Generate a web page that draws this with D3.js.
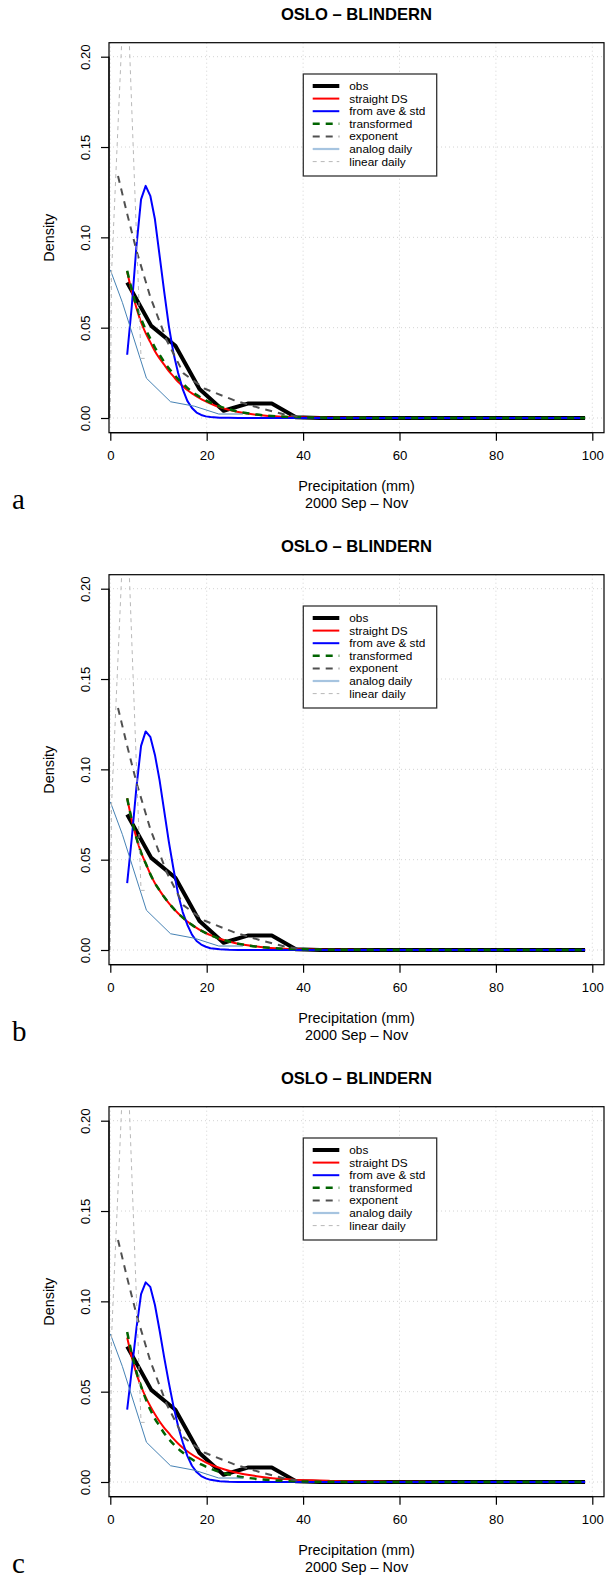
<!DOCTYPE html>
<html><head><meta charset="utf-8">
<script src="https://cdn.jsdelivr.net/npm/d3@7"></script>
<style>body{margin:0;background:#fff}svg{display:block}</style>
</head><body>
<script>
// ---- data ----
const panelLabels = ["a", "b", "c"];
const title = "OSLO \u2013 BLINDERN";
const xTicks = [0, 20, 40, 60, 80, 100];
const yTicks = [0.00, 0.05, 0.10, 0.15, 0.20];
const yTickLabels = ["0.00", "0.05", "0.10", "0.15", "0.20"];
const legendNames = ["obs", "straight DS", "from ave & std", "transformed", "exponent", "analog daily", "linear daily"];

// observed histogram mids & densities (same in all panels)
const obsX = [3.5, 8.5, 13.5, 18.5, 23.5, 28.5, 33.5, 38.5, 43.5, 48.5, 53.5, 58.5, 63.5, 68.5, 73.5, 78.5, 83.5, 88.5, 93.5, 98.5];
const obsY = [0.075, 0.051, 0.040, 0.016, 0.004, 0.008, 0.008, 0.0004, 0, 0, 0, 0, 0, 0, 0, 0, 0, 0, 0, 0];

// x grid of the fitted curves
const fitX = [3.5, 4.46, 5.42, 6.38, 7.34, 8.30, 9.26, 10.22, 11.18, 12.14, 13.10, 14.06, 15.02, 15.98, 16.94, 17.90, 18.86, 19.82, 20.78, 22.70, 24.62, 26.54, 28.46, 30.38, 32.30, 34.22, 36.14, 38.06, 41.90, 45.74, 49.58, 57.26, 64.94, 72.62, 80.30, 87.98, 98.5];

const redA = [0.081, 0.070, 0.061, 0.053, 0.047, 0.042, 0.037, 0.033, 0.0295, 0.026, 0.023, 0.020, 0.0177, 0.0155, 0.0136, 0.012, 0.0105, 0.0092, 0.008, 0.006, 0.0045, 0.0033, 0.0025, 0.0018, 0.0013, 0.001, 0.0007, 0.0005, 0.0003, 0.00015, 0.0001, 0.00005, 0, 0, 0, 0, 0];
const redB = [0.084, 0.072, 0.062, 0.054, 0.048, 0.042, 0.037, 0.033, 0.0293, 0.026, 0.023, 0.0203, 0.018, 0.0158, 0.0139, 0.0122, 0.0107, 0.0094, 0.0082, 0.0062, 0.0047, 0.0035, 0.0026, 0.0019, 0.0014, 0.001, 0.0007, 0.0005, 0.0003, 0.00015, 0.0001, 0.00005, 0, 0, 0, 0, 0];
const redC = [0.080, 0.069, 0.060, 0.053, 0.047, 0.042, 0.0375, 0.0335, 0.030, 0.027, 0.024, 0.0213, 0.019, 0.017, 0.0152, 0.0136, 0.0122, 0.0109, 0.0097, 0.0078, 0.0062, 0.005, 0.004, 0.0032, 0.0025, 0.002, 0.0016, 0.0013, 0.0009, 0.0006, 0.0004, 0.0002, 0.0001, 0.00005, 0, 0, 0];

const greenA = [0.0815, 0.071, 0.062, 0.055, 0.049, 0.044, 0.039, 0.035, 0.031, 0.0275, 0.0245, 0.0215, 0.019, 0.0167, 0.0146, 0.0128, 0.0112, 0.0098, 0.0085, 0.0064, 0.0048, 0.0035, 0.0026, 0.0019, 0.0014, 0.001, 0.0007, 0.0005, 0.0003, 0.00015, 0.0001, 0.00005, 0, 0, 0, 0, 0];
const greenB = [0.084, 0.072, 0.062, 0.054, 0.048, 0.042, 0.037, 0.033, 0.0293, 0.026, 0.023, 0.0203, 0.018, 0.0158, 0.0139, 0.0122, 0.0107, 0.0094, 0.0082, 0.0062, 0.0047, 0.0035, 0.0026, 0.0019, 0.0014, 0.001, 0.0007, 0.0005, 0.0003, 0.00015, 0.0001, 0.00005, 0, 0, 0, 0, 0];
const greenC = [0.083, 0.071, 0.061, 0.053, 0.046, 0.040, 0.035, 0.031, 0.027, 0.0238, 0.021, 0.0185, 0.0163, 0.0143, 0.0126, 0.011, 0.0097, 0.0085, 0.0074, 0.0056, 0.0042, 0.0031, 0.0023, 0.0017, 0.0012, 0.0009, 0.0006, 0.0004, 0.0002, 0.0001, 0.00005, 0, 0, 0, 0, 0, 0];

const blueA = [0.035, 0.062, 0.095, 0.121, 0.1285, 0.123, 0.110, 0.090, 0.070, 0.051, 0.036, 0.025, 0.016, 0.0095, 0.0055, 0.003, 0.0017, 0.0009, 0.0005, 0.0002, 0.0001, 0, 0, 0, 0, 0, 0, 0, 0, 0, 0, 0, 0, 0, 0, 0, 0];
const blueB = [0.037, 0.062, 0.090, 0.113, 0.121, 0.118, 0.108, 0.094, 0.077, 0.060, 0.045, 0.031, 0.021, 0.014, 0.0085, 0.005, 0.003, 0.0018, 0.001, 0.0004, 0.0001, 0, 0, 0, 0, 0, 0, 0, 0, 0, 0, 0, 0, 0, 0, 0, 0];
const blueC = [0.040, 0.062, 0.085, 0.104, 0.1105, 0.108, 0.098, 0.084, 0.069, 0.055, 0.042, 0.031, 0.022, 0.0145, 0.009, 0.0055, 0.0033, 0.002, 0.0012, 0.0004, 0.0001, 0, 0, 0, 0, 0, 0, 0, 0, 0, 0, 0, 0, 0, 0, 0, 0];

// exponent fit (same in all panels)
const expX = [1.6, 3.5, 5.5, 8.3, 11.7, 15.2, 19.5, 25.5, 31.0, 36.6, 40.0];
const expY = [0.134, 0.113, 0.092, 0.067, 0.043, 0.0247, 0.0163, 0.0100, 0.0055, 0.0017, 0.0004];

// analog daily
const anaX = [0, 2.5, 7.5, 12.5, 17.5, 22.5, 27.5];
const anaY = [0.082, 0.064, 0.022, 0.009, 0.0065, 0.0022, 0.0022];

// linear daily
const linX = [0, 0.25, 3.22, 6.38, 7.34];
const linY = [0, 0.08, 0.26, 0.033, 0.033];

const panels = [
  {label: "a", red: redA, green: greenA, blue: blueA},
  {label: "b", red: redB, green: greenB, blue: blueB},
  {label: "c", red: redC, green: greenC, blue: blueC}
];

// ---- layout ----
const W = 606, H = 1578, PANEL_H = 532;
const box = {left: 109, right: 604, top: 42.7, bottom: 432.7};
const font = "'Liberation Sans', Arial, Helvetica, sans-serif";

const svg = d3.select("body").append("svg").attr("width", W).attr("height", H);

const x = d3.scaleLinear().domain([0, 100]).range([110.3, 592.3]);
const y = d3.scaleLinear().domain([0, 0.2]).range([418, 56.7]);

const styles = [
  {color: "#000", width: 4, dash: null},
  {color: "#ff0000", width: 2, dash: null},
  {color: "#0000ff", width: 2, dash: null},
  {color: "#006400", width: 2.5, dash: "7,6"},
  {color: "#505050", width: 2, dash: "7,6"},
  {color: "#4682b4", width: 1, dash: null},
  {color: "#b8b8b8", width: 1, dash: "4,4"}
];

panels.forEach((p, i) => {
  const g = svg.append("g").attr("transform", `translate(0,${i * PANEL_H})`);
  const clipId = "clip" + i;
  g.append("clipPath").attr("id", clipId).append("rect")
    .attr("x", box.left).attr("y", box.top)
    .attr("width", box.right - box.left).attr("height", box.bottom - box.top);

  // grid
  const grid = g.append("g").attr("stroke", "#d3d3d3").attr("stroke-width", 1).attr("stroke-dasharray", "1,3");
  xTicks.forEach(t => grid.append("line").attr("x1", x(t)).attr("x2", x(t)).attr("y1", box.top).attr("y2", box.bottom));
  yTicks.forEach(t => grid.append("line").attr("x1", box.left).attr("x2", box.right).attr("y1", y(t)).attr("y2", y(t)));

  const plot = g.append("g").attr("clip-path", `url(#${clipId})`);
  const line = d3.line().x(d => x(d[0])).y(d => y(d[1]));
  const seriesList = [
    d3.zip(obsX, obsY),
    d3.zip(fitX, p.red),
    d3.zip(fitX, p.blue),
    d3.zip(fitX, p.green),
    d3.zip(expX, expY),
    d3.zip(anaX, anaY),
    d3.zip(linX, linY)
  ];
  seriesList.forEach((s, k) => {
    const st = styles[k];
    const lineGen = (k === 1 || k === 3) ? line.curve(d3.curveMonotoneX) : line.curve(d3.curveLinear);
    plot.append("path").attr("d", lineGen(s)).attr("fill", "none")
      .attr("stroke", st.color).attr("stroke-width", st.width)
      .attr("stroke-dasharray", st.dash).attr("stroke-linejoin", "round");
  });

  // box
  g.append("rect").attr("x", box.left).attr("y", box.top)
    .attr("width", box.right - box.left).attr("height", box.bottom - box.top)
    .attr("fill", "none").attr("stroke", "#000").attr("stroke-width", 1.2);

  // x axis
  const xAxis = d3.axisBottom(x).tickValues(xTicks).tickSize(8).tickFormat(d3.format("d"));
  const xa = g.append("g").attr("transform", `translate(0,${box.bottom})`).call(xAxis);
  xa.select(".domain").attr("d", `M${x(0)},0H${x(100)}`).attr("stroke", "#000").attr("stroke-width", 1.2);
  xa.selectAll(".tick line").attr("stroke-width", 1.2);
  xa.selectAll("text").attr("font-family", font).attr("font-size", 13.2).attr("dy", null).attr("y", 27.8);

  // y axis
  const yAxis = d3.axisLeft(y).tickValues(yTicks).tickSize(8).tickFormat((d, j) => yTickLabels[j]);
  const ya = g.append("g").attr("transform", `translate(${box.left},0)`).call(yAxis);
  ya.select(".domain").attr("d", `M0,${y(0)}V${y(0.2)}`).attr("stroke", "#000").attr("stroke-width", 1.2);
  ya.selectAll(".tick line").attr("stroke-width", 1.2);
  ya.selectAll("text").attr("font-family", font).attr("font-size", 13.2)
    .attr("x", null).attr("dy", null)
    .attr("transform", "translate(-19.3,0) rotate(-90)")
    .attr("text-anchor", "middle").attr("y", 0);

  // titles
  g.append("text").attr("x", (box.left + box.right) / 2).attr("y", 20)
    .attr("text-anchor", "middle").attr("font-family", font).attr("font-weight", "bold")
    .attr("font-size", 16.6).text(title);
  g.append("text").attr("transform", `translate(54,${(box.top + box.bottom) / 2}) rotate(-90)`)
    .attr("text-anchor", "middle").attr("font-family", font).attr("font-size", 14.4).text("Density");
  g.append("text").attr("x", (box.left + box.right) / 2).attr("y", 491)
    .attr("text-anchor", "middle").attr("font-family", font).attr("font-size", 14.4).text("Precipitation (mm)");
  g.append("text").attr("x", (box.left + box.right) / 2).attr("y", 507.5)
    .attr("text-anchor", "middle").attr("font-family", font).attr("font-size", 14.4).text("2000 Sep \u2013 Nov");
  g.append("text").attr("x", 12).attr("y", 509)
    .attr("font-family", "'Liberation Serif', 'Times New Roman', serif").attr("font-size", 29).text(p.label);

  // legend
  const lg = g.append("g");
  lg.append("rect").attr("x", 303.3).attr("y", 74).attr("width", 133.4).attr("height", 102)
    .attr("fill", "#fff").attr("stroke", "#333").attr("stroke-width", 1.3);
  legendNames.forEach((name, k) => {
    const st = styles[k];
    const ly = 86 + k * 12.6;
    lg.append("line").attr("x1", 312.7).attr("x2", 339.3).attr("y1", ly).attr("y2", ly)
      .attr("stroke", k === 5 ? "#a6c4e0" : st.color).attr("stroke-width", k === 5 ? 2.2 : st.width)
      .attr("stroke-dasharray", st.dash);
    lg.append("text").attr("x", 349.3).attr("y", ly + 4).attr("font-family", font)
      .attr("font-size", 11.8).text(name);
  });
});
</script>
</body></html>
